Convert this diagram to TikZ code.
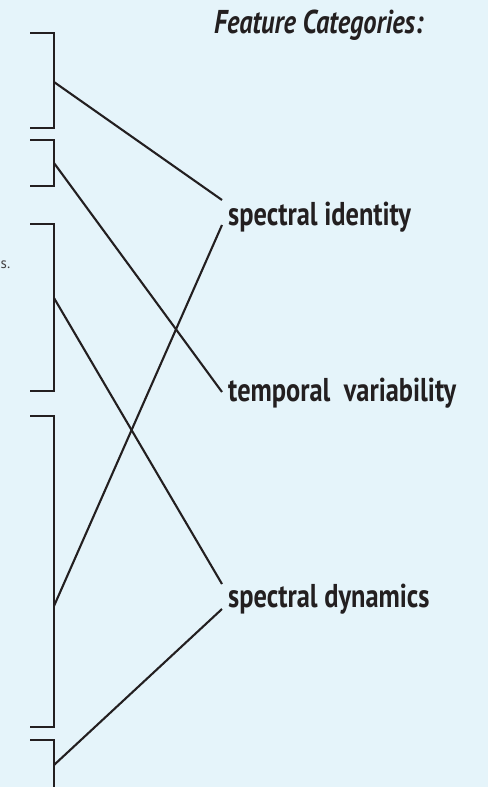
\documentclass[tikz,border=0pt]{standalone}
\usepackage{fontspec}
\newfontfamily\catfont[FakeStretch=0.8]{PT Sans}
\newfontfamily\notefont{PT Sans}
\definecolor{panelbg}{RGB}{229,244,250}
\definecolor{ink}{RGB}{35,31,32}
\tikzset{
  bracketline/.style={draw=ink, line width=2.7pt, line join=miter},
  link/.style={draw=ink, line width=2.1pt},
  catlabel/.style={anchor=base west, inner sep=0pt, text=ink,
    font=\catfont\bfseries\fontsize{33}{37}\selectfont},
  headlabel/.style={anchor=base west, inner sep=0pt, text=ink,
    font=\catfont\bfseries\itshape\fontsize{33}{37}\selectfont},
}
\begin{document}
\begin{tikzpicture}[x=1pt, y=-1pt]
  \fill[panelbg] (0,0) rectangle (488,787);
  \useasboundingbox (0,0) rectangle (488,787);

  % trailing punctuation of a sentence at the left edge
  \node[anchor=base west, inner sep=0pt, text=ink!85,
    font=\notefont\fontsize{15}{18}\selectfont] (cut) at (0.5,268) {s.};

  % heading
  \node[headlabel] (head) at (214,33) {Feature Categories:};

  % brackets grouping the feature list
  \draw[bracketline] (30,33)  -- (54,33)  -- (54,128) -- (30,128);
  \draw[bracketline] (30,140) -- (54,140) -- (54,186) -- (30,186);
  \draw[bracketline] (30,224) -- (54,224) -- (54,391) -- (30,391);
  \draw[bracketline] (30,416) -- (54,416) -- (54,727) -- (30,727);
  \draw[bracketline] (30,740) -- (54,740) -- (54,790);

  \coordinate (b1) at (54,82);
  \coordinate (b2) at (54,163);
  \coordinate (b3) at (54,298);
  \coordinate (b4) at (54,606);
  \coordinate (b5) at (54,765);

  % category labels
  \node[catlabel] (si) at (228,225) {spectral identity};
  \node[catlabel] (tv) at (228,401) {temporal\ \ variability};
  \node[catlabel] (sd) at (228,607) {spectral dynamics};

  % connector end points beside the labels
  \coordinate (si-up) at (222,200);
  \coordinate (si-dn) at (222,225);
  \coordinate (tv-in) at (222,392);
  \coordinate (sd-up) at (222,584);
  \coordinate (sd-dn) at (222,609);

  % links from bracket groups to categories
  \draw[link] (b1) -- (si-up);
  \draw[link] (b2) -- (tv-in);
  \draw[link] (b3) -- (sd-up);
  \draw[link] (b4) -- (si-dn);
  \draw[link] (b5) -- (sd-dn);
\end{tikzpicture}
\end{document}
